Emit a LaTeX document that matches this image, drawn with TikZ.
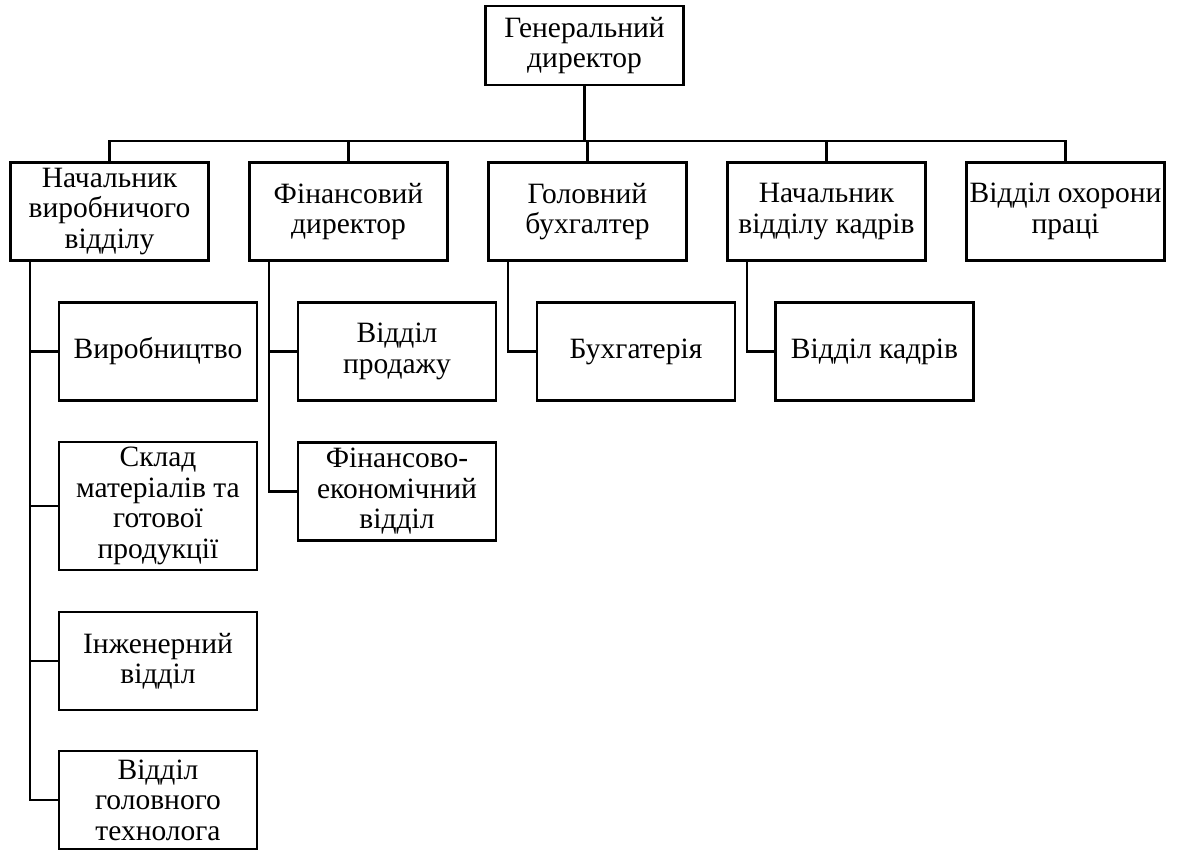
\documentclass[tikz,border=0pt]{standalone}
\usepackage{fontspec}
\setmainfont{Liberation Serif}
\begin{document}
\begin{tikzpicture}[x=1pt,y=-1pt,
  box/.style={draw, line width=2.7pt, minimum width=198pt, minimum height=98pt,
    align=center, inner sep=0pt, font=\fontsize{29.5}{30.5}\selectfont},
  link/.style={line width=2.7pt}]
\useasboundingbox (0,0) rectangle (1178,850);
\node[box, minimum height=79pt] (top) at (584.5,45.5) {Генеральний\\директор};
\node[box] (A) at (109.5,211.5) {Начальник\\виробничого\\відділу};
\node[box] (B) at (348.5,211.5) {Фінансовий\\директор};
\node[box] (C) at (587.5,211.5) {Головний\\бухгалтер};
\node[box] (D) at (826.5,211.5) {Начальник\\відділу кадрів};
\node[box] (E) at (1065.5,211.5) {Відділ охорони\\праці};
\node[box] (a1) at (158,351.5) {Виробництво};
\node[box, minimum height=128pt] (a2) at (158,506) {Склад\\матеріалів та\\готової\\продукції};
\node[box] (a3) at (158,661) {Інженерний\\відділ};
\node[box] (a4) at (158,800) {Відділ\\головного\\технолога};
\node[box] (b1) at (397,351.5) {Відділ\\продажу};
\node[box] (b2) at (397,491.5) {Фінансово-\\економічний\\відділ};
\node[box] (c1) at (636,351.5) {Бухгатерія};
\node[box] (d1) at (874.5,351.5) {Відділ кадрів};
\coordinate (bus) at (0,141);
\coordinate (ax) at (30,0);
\coordinate (bx) at (269,0);
\coordinate (cx) at (508,0);
\coordinate (dx) at (747,0);
\draw[link] (top.south) -- (top.south |- bus);
\draw[link, line cap=rect] (A.north |- bus) -- (E.north |- bus);
\foreach \n in {A,B,C,D,E} \draw[link] (\n.north) -- (\n.north |- bus);
\draw[link] (ax |- A.south) |- (a4.west);
\foreach \n in {a1,a2,a3} \draw[link] (ax |- \n.west) -- (\n.west);
\draw[link] (bx |- B.south) |- (b2.west);
\draw[link] (bx |- b1.west) -- (b1.west);
\draw[link] (cx |- C.south) |- (c1.west);
\draw[link] (dx |- D.south) |- (d1.west);
\end{tikzpicture}
\end{document}
